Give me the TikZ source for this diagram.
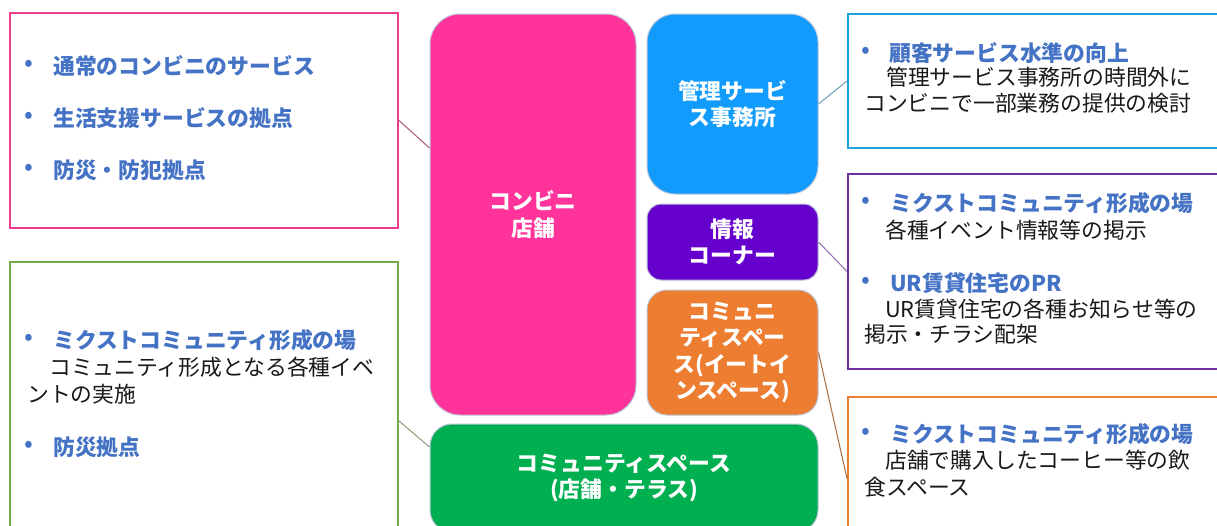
\documentclass[tikz,border=0pt]{standalone}
\usepackage{fontspec}
\setmainfont{Noto Sans CJK JP}
\usetikzlibrary{calc}
\definecolor{cStore}{HTML}{FF3399}
\definecolor{cKanri}{HTML}{119CFD}
\definecolor{cJoho}{HTML}{6600CC}
\definecolor{cEat}{HTML}{ED7D31}
\definecolor{cTer}{HTML}{00B050}
\definecolor{fPink}{HTML}{EE3A8F}
\definecolor{fGreen}{HTML}{70AD47}
\definecolor{fBlue}{HTML}{1BA1DF}
\definecolor{fPurple}{HTML}{7030A0}
\definecolor{fOrange}{HTML}{ED7D31}
\definecolor{txtBlue}{HTML}{4472C4}
\definecolor{rimGray}{HTML}{BCC4D8}
\definecolor{lnPink}{HTML}{A8577A}
\definecolor{lnBlue}{HTML}{6A9EB8}
\definecolor{lnPurple}{HTML}{8A6BB0}
\definecolor{lnOrange}{HTML}{A86A40}
\definecolor{lnGreen}{HTML}{889E78}
\newcommand{\fsz}{\fontsize{21.8}{26.5}\selectfont}
\begin{document}
\begin{tikzpicture}[x=1pt,y=-1pt,
  frame/.style={draw=#1, line width=2pt, fill=white, inner sep=0pt, rectangle},
  area/.style={fill=#1, draw=rimGray, line width=1pt, text=white,
    font=\fsz\bfseries, align=center, inner sep=0pt},
  bul/.style={text=txtBlue, font=\fontsize{26}{30}\selectfont, inner sep=0pt},
  head/.style={anchor=west, text=txtBlue, font=\fsz\bfseries, inner sep=0pt,
    text height=0.88em, text depth=0.12em, yshift=-4.5pt},
  body/.style={anchor=west, text=black!90, font=\fsz, inner sep=0pt,
    text height=0.88em, text depth=0.12em, yshift=-4pt},
  link/.style={draw=#1, line width=1pt}
]
\clip (0,0) rectangle (1217,525);
\fill[white] (0,0) rectangle (1217,525);

% description frames
\node[frame=fPink, minimum width=388pt, minimum height=215pt] (pinkbox) at (204,120.5) {};
\node[frame=fGreen, minimum width=388pt, minimum height=298pt] (greenbox) at (204,411) {};
\node[frame=fBlue, minimum width=412pt, minimum height=134pt] (bluebox) at (1054,81) {};
\node[frame=fPurple, minimum width=412pt, minimum height=195pt] (purplebox) at (1054,271.5) {};
\node[frame=fOrange, minimum width=412pt, minimum height=163pt] (orangebox) at (1054,478.5) {};

% area blocks
\node[area=cStore, rounded corners=30pt, minimum width=206pt, minimum height=401pt] (store) at (533,214.5) {コンビニ\\店舗};
\node[area=cKanri, rounded corners=28pt, minimum width=171pt, minimum height=180pt] (kanri) at (732.5,104) {管理サービ\\ス事務所};
\node[area=cJoho, rounded corners=14pt, minimum width=171pt, minimum height=76pt] (joho) at (732.5,242) {情報\\コーナー};
\node[area=cEat, rounded corners=20pt, minimum width=171pt, minimum height=125pt] (eatin) at (732.5,352.5) {コミュニ\\ティスペー\\ス(イートイ\\ンスペース)};
\node[area=cTer, rounded corners=22pt, minimum width=388pt, minimum height=108pt] (terrace) at (624,478) {コミュニティスペース\\(店舗・テラス)};

% connectors
\draw[link=lnPink] (pinkbox.east) -- ([yshift=66.5pt]store.west);
\draw[link=lnBlue] (kanri.east) -- (bluebox.west);
\draw[link=lnPurple] (joho.east) -- (purplebox.west);
\draw[link=lnOrange] (eatin.east) -- (orangebox.west);
\draw[link=lnGreen] ([yshift=-10pt]greenbox.east) -- ([yshift=31pt]terrace.west);

% pink box text
\node[bul] (pb1) at (29,66) {•};
\node[head] (pt1) at (53,66) {通常のコンビニのサービス};
\node[bul] (pb2) at (29,118) {•};
\node[head] (pt2) at (53,118) {生活支援サービスの拠点};
\node[bul] (pb3) at (29,170) {•};
\node[head] (pt3) at (53,170) {防災・防犯拠点};

% green box text
\node[bul] (gb1) at (29,340) {•};
\node[head] (gt1) at (53,340) {ミクストコミュニティ形成の場};
\node[body] (gt2) at (49,368) {コミュニティ形成となる各種イベ};
\node[body] (gt3) at (27,395) {ントの実施};
\node[bul] (gb2) at (29,447) {•};
\node[head] (gt4) at (53,447) {防災拠点};

% blue box text
\node[bul] (bb1) at (866,53) {•};
\node[head] (bt1) at (889,53) {顧客サービス水準の向上};
\node[body] (bt2) at (886,78) {管理サービス事務所の時間外に};
\node[body] (bt3) at (864,104) {コンビニで一部業務の提供の検討};

% purple box text
\node[bul] (ub1) at (866,203) {•};
\node[head] (ut1) at (890,203) {ミクストコミュニティ形成の場};
\node[body] (ut2) at (885,231) {各種イベント情報等の掲示};
\node[bul] (ub2) at (866,283) {•};
\node[head] (ut3) at (890,283) {UR賃貸住宅のPR};
\node[body] (ut4) at (885,310) {UR賃貸住宅の各種お知らせ等の};
\node[body] (ut5) at (864,335) {掲示・チラシ配架};

% orange box text
\node[bul] (ob1) at (866,434) {•};
\node[head] (ot1) at (890,434) {ミクストコミュニティ形成の場};
\node[body] (ot2) at (885,461) {店舗で購入したコーヒー等の飲};
\node[body] (ot3) at (864,488) {食スペース};
\end{tikzpicture}
\end{document}
